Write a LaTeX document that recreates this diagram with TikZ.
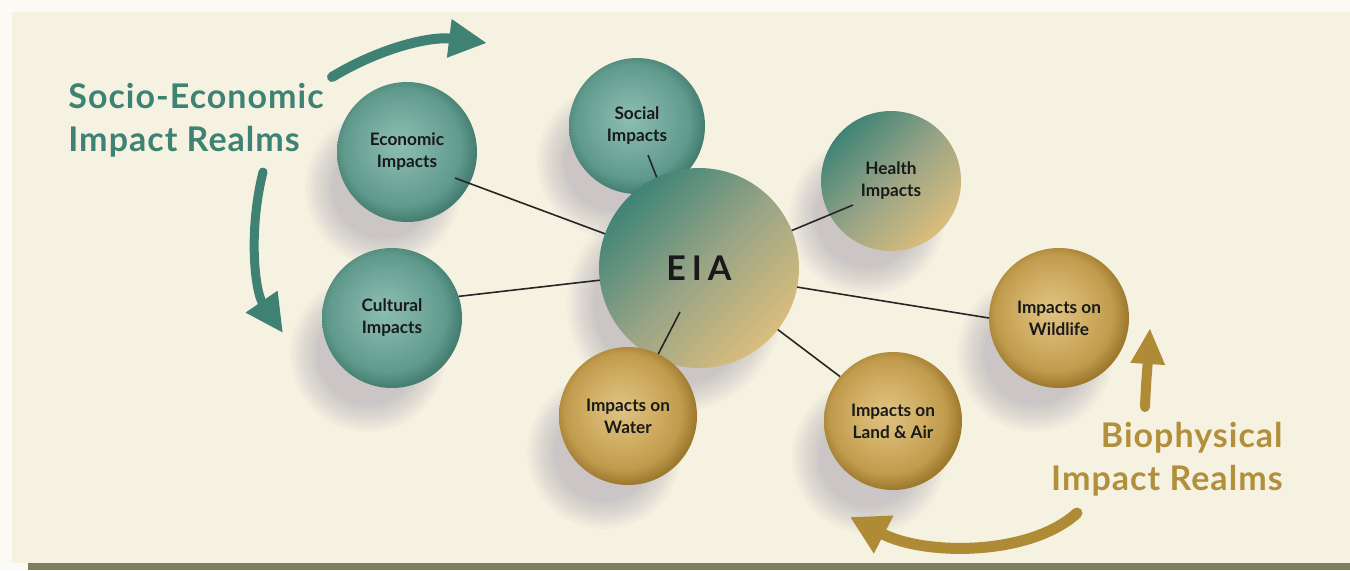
\documentclass[tikz,border=0pt]{standalone}
\usepackage{fontspec}
\setmainfont{Lato}
\newfontfamily\headfont[LetterSpace=3]{Lato}
\usetikzlibrary{arrows.meta,calc}
\definecolor{pagew}{HTML}{FBFAF4}
\definecolor{panel}{HTML}{F6F2E1}
\definecolor{barc}{HTML}{7E7D5D}
\definecolor{tealtxt}{HTML}{3E8273}
\definecolor{goldtxt}{HTML}{B18F3C}
\definecolor{tealarrow}{HTML}{3F8274}
\definecolor{goldarrow}{HTML}{B08B35}
\definecolor{shadowc}{HTML}{8A849C}
\definecolor{tA}{HTML}{8CBEB2}
\definecolor{tB}{HTML}{74AA9D}
\definecolor{tC}{HTML}{5F9A8D}
\definecolor{tD}{HTML}{467F72}
\definecolor{gA}{HTML}{E0C483}
\definecolor{gB}{HTML}{D0AE64}
\definecolor{gC}{HTML}{C09B4D}
\definecolor{gD}{HTML}{9E7A2F}
\definecolor{eT}{HTML}{3F8476}
\definecolor{eM}{HTML}{98A486}
\definecolor{eG}{HTML}{DABD7C}
\definecolor{linec}{HTML}{262626}
\pgfdeclareradialshading{tealsphere}{\pgfpoint{-3bp}{3bp}}{color(0bp)=(tA); color(12bp)=(tB); color(21bp)=(tC); color(26bp)=(tD); color(50bp)=(tD)}
\pgfdeclareradialshading{goldsphere}{\pgfpoint{-3bp}{3bp}}{color(0bp)=(gA); color(12bp)=(gB); color(21bp)=(gC); color(26bp)=(gD); color(50bp)=(gD)}
\pgfdeclarelayer{back}
\pgfdeclarelayer{shade}
\pgfsetlayers{back,shade,main}
\begin{document}
\begin{tikzpicture}[x=0.5pt,y=-0.5pt,
  ball/.style={circle, inner sep=0pt, outer sep=0pt, minimum size=#1, align=center,
    text=black!90, font=\fontsize{8.6}{11}\selectfont\bfseries},
  teal ball/.style={ball=#1, shading=tealsphere},
  gold ball/.style={ball=#1, shading=goldsphere},
  mix ball/.style={ball=#1, top color=eT, bottom color=eG, middle color=eM, shading angle=45},
  link/.style={draw=linec, line width=0.8pt},
  big arrow/.style={line width=5pt, line cap=round, -{Triangle[width=18pt,length=19pt]}},
  head/.style={font=\headfont\fontsize{17}{20}\selectfont\bfseries, anchor=base west, inner sep=0pt}]
\useasboundingbox (0,0) rectangle (1350,570);
\begin{pgfonlayer}{back}
  \fill[pagew] (0,0) rectangle (1350,570);
  \fill[panel] (12,12) rectangle (1350,563);
  \fill[barc] (28,563) rectangle (1350,570);
\end{pgfonlayer}

% nodes
\node[teal ball=70pt] (econ) at (407,152) {Economic\\Impacts};
\node[teal ball=68pt] (social) at (637,126) {Social\\Impacts};
\node[mix ball=70pt] (health) at (891,181) {Health\\Impacts};
\node[teal ball=70pt] (cult) at (392,318) {Cultural\\Impacts};
\node[mix ball=100pt, font=\fontsize{17}{20}\selectfont\bfseries] (eia) at (699,268) {E\hspace{3pt}I\hspace{3pt}A};
\node[gold ball=69pt] (water) at (628,416) {Impacts on\\Water};
\node[gold ball=69pt] (land) at (893,421) {Impacts on\\Land \& Air};
\node[gold ball=70pt] (wild) at (1059,318) {Impacts on\\Wildlife};

% shadows
\begin{pgfonlayer}{shade}
\foreach \n/\r in {econ/70, social/68, health/70, cult/70, eia/100, water/69, land/69, wild/70} {
  \foreach \k in {0,...,9} {
    \fill[shadowc, opacity=0.045] ($(\n.center)+(-24,36)$) circle[radius={(\r+8-3*\k)*0.5pt}];
  }
}
\end{pgfonlayer}

% links
\draw[link] ($(econ.center)+(48,26)$) -- (eia.160);
\draw[link] ($(social.center)+(11,29)$) -- (eia.115);
\draw[link] ($(health.center)+(-38,24)$) -- (eia.22);
\draw[link] (cult.18) -- (eia.187);
\draw[link] (water.64) -- ($(eia.center)+(-19,44)$);
\draw[link] (land.140) -- (eia.322);
\draw[link] (wild.180) -- (eia.349);

% realm arrows
\coordinate (ta1) at (332,77);
\coordinate (ta2) at (487,43);
\coordinate (da1) at (263,172);
\coordinate (da2) at (283,333);
\coordinate (ua1) at (1145,407);
\coordinate (ua2) at (1150,328);
\coordinate (ba1) at (1077,513);
\coordinate (ba2) at (850,517);
\draw[big arrow, tealarrow] (ta1) .. controls (380,48) and (430,36) .. (ta2);
\draw[big arrow, tealarrow, line width=4.5pt] (da1) .. controls (248,232) and (255,292) .. (da2);
\draw[big arrow, goldarrow, -{Triangle[width=16pt,length=18pt]}] (ua1) .. controls (1146,380) and (1148,360) .. (ua2);
\draw[big arrow, goldarrow, line width=5.5pt, -{Triangle[width=20pt,length=19pt]}] (ba1) .. controls (1030,556) and (925,556) .. (ba2);

% titles
\node[head, text=tealtxt] (se1) at (68,108) {Socio-Economic};
\node[head, text=tealtxt] (se2) at (68,151) {Impact Realms};
\node[head, text=goldtxt, anchor=base east] (bp1) at (1283,447) {Biophysical};
\node[head, text=goldtxt, anchor=base east] (bp2) at (1283,490) {Impact Realms};
\end{tikzpicture}
\end{document}
